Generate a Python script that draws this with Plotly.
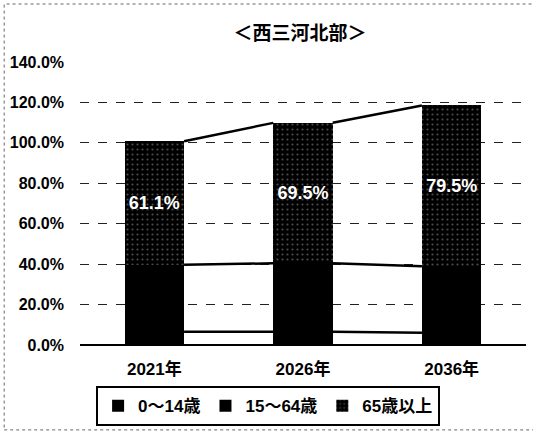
import plotly.graph_objects as go

years = ["2021年", "2026年", "2036年"]
age_0_14 = [6.5, 6.5, 6.0]
age_15_64 = [33.2, 33.9, 33.0]
age_65_over = [61.1, 69.5, 79.5]
series_names = ["0～14歳", "15～64歳", "65歳以上"]
y_ticks = [0, 20, 40, 60, 80, 100, 120, 140]
title_text = "＜西三河北部＞"

FONT = "Liberation Sans, Arial, Noto Sans CJK JP, sans-serif"
BAR_W = 0.4
xs = list(range(len(years)))

fig = go.Figure()
fig.add_trace(go.Bar(x=xs, y=age_0_14, name=series_names[0], width=BAR_W,
                     marker=dict(color="#000000", line=dict(width=0))))
fig.add_trace(go.Bar(x=xs, y=age_15_64, name=series_names[1], width=BAR_W,
                     marker=dict(color="#000000", line=dict(width=0))))
fig.add_trace(go.Bar(x=xs, y=age_65_over, name=series_names[2], width=BAR_W,
                     marker=dict(color="#111111", line=dict(width=0),
                                 pattern=dict(shape=".", bgcolor="#000000", fgcolor="#999999",
                                              size=5, solidity=0.15)),
                     texttemplate="%{y:.1f}%", textposition="inside",
                     insidetextanchor="middle", textangle=0, constraintext="none",
                     textfont=dict(color="white", size=18, family=FONT, weight="bold")))

# series lines connecting tops of each stacked segment
run = [0.0] * len(years)
cums = []
for s in (age_0_14, age_15_64, age_65_over):
    run = [r + v for r, v in zip(run, s)]
    cums.append(list(run))
for c in cums:
    for i in range(len(years) - 1):
        fig.add_trace(go.Scatter(x=[xs[i] + BAR_W / 2, xs[i + 1] - BAR_W / 2],
                                 y=[c[i], c[i + 1]], mode="lines",
                                 line=dict(color="black", width=2.5),
                                 showlegend=False, hoverinfo="skip"))

fig.update_layout(
    barmode="stack",
    width=533, height=433,
    margin=dict(l=80, r=7, t=62, b=88, autoexpand=False),
    paper_bgcolor="white", plot_bgcolor="white",
    font=dict(family=FONT, color="black"),
    title=dict(text=title_text, x=0.563, xanchor="center", y=0.922, yanchor="middle",
               font=dict(size=19, family="Noto Sans CJK JP, sans-serif", weight="bold")),
    legend=dict(orientation="h", xref="container", yref="container",
                x=0.503, xanchor="center", y=0.062, yanchor="middle",
                bordercolor="black", borderwidth=2, itemwidth=30,
                font=dict(size=17, family="Liberation Sans, Noto Sans CJK JP", weight="bold"),
                traceorder="normal", bgcolor="white"),
    showlegend=True,
    shapes=[dict(type="rect", xref="paper", yref="paper",
                 x0=-0.17, x1=1.02, y0=-0.30, y1=1.205,
                 line=dict(color="#666666", width=1, dash="dot"), layer="below")],
)
fig.update_xaxes(range=[-0.5, 2.5], tickvals=xs, ticktext=years, showgrid=False,
                 ticks="", ticklabelstandoff=12, showline=False, zeroline=False,
                 tickfont=dict(size=17, weight="bold"))
fig.update_yaxes(range=[0, 140], tickvals=y_ticks,
                 ticktext=[f"{v:.1f}%" for v in y_ticks],
                 showgrid=True, gridcolor="#222222", griddash="dash", gridwidth=1,
                 zeroline=True, zerolinecolor="black", zerolinewidth=2,
                 ticks="", ticklabelstandoff=15,
                 tickfont=dict(size=16, weight="bold"))

fig.write_html("out.html", config={"displayModeBar": False},
               post_script="document.body.style.margin='0';")
